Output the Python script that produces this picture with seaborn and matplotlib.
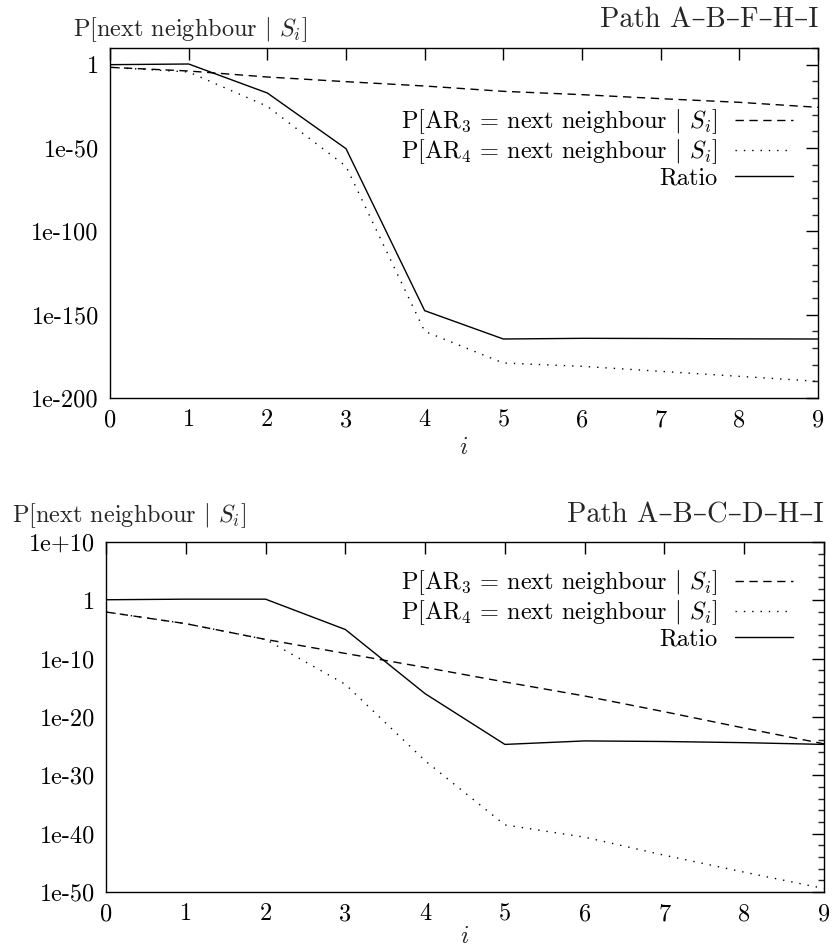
import matplotlib
matplotlib.use("Agg")
import matplotlib.pyplot as plt
import numpy as np
import pandas as pd
import seaborn as sns
from matplotlib.ticker import FixedLocator, NullFormatter

# ---------------- data (log10 of the plotted probabilities) ----------------
steps = [0, 1, 2, 3, 4, 5, 6, 7, 8, 9]

# Path A-B-F-H-I
top_ar3_exp = [-1.6, -3.8, -7.4, -10.2, -12.8, -16.0, -18.0, -20.4, -22.6, -25.6]
top_ar4_exp = [-1.6, -4.4, -25.0, -61.0, -160.0, -179.0, -181.0, -184.0, -187.0, -190.0]
top_ratio_exp = [0.0, 0.4, -17.0, -50.4, -147.6, -164.6, -164.2, -164.3, -164.5, -164.6]

# Path A-B-C-D-H-I
bot_ar3_exp = [-2.0, -4.0, -6.7, -9.1, -11.5, -14.0, -16.4, -19.1, -21.9, -24.6]
bot_ar4_exp = [-2.0, -4.0, -6.7, -14.4, -27.5, -38.5, -40.6, -43.7, -46.6, -49.4]
bot_ratio_exp = [0.1, 0.2, 0.2, -5.0, -16.0, -24.7, -24.1, -24.2, -24.4, -24.7]

series_labels = [
    r"P[AR$_3$ = next neighbour $|$ $S_i$]",
    r"P[AR$_4$ = next neighbour $|$ $S_i$]",
    "Ratio",
]
titles = ["Path A–B–F–H–I", "Path A–B–C–D–H–I"]
ylabel_text = r"P[next neighbour $|$ $S_i$]"
xlabel_text = r"$i$"

top_major_exp = [-200, -150, -100, -50, 0]
top_major_labels = ["1e-200", "1e-150", "1e-100", "1e-50", "1"]
bot_major_exp = [-50, -40, -30, -20, -10, 0, 10]
bot_major_labels = ["1e-50", "1e-40", "1e-30", "1e-20", "1e-10", "1", "1e+10"]
x_tick_labels = ["0", "1", "2", "3", "4", "5", "6", "7", "8", "9"]

# ---------------- style ----------------
sns.set_style("white")
plt.rcParams["font.family"] = ["cmr10", "DejaVu Serif"]
plt.rcParams["mathtext.fontset"] = "cm"
plt.rcParams["axes.unicode_minus"] = False
plt.rcParams["axes.edgecolor"] = "black"
plt.rcParams["axes.linewidth"] = 1.0
FS = 17.5
TITLE_FS = 20.5

fig = plt.figure(figsize=(8.32, 9.49), dpi=100)
ax_top = fig.add_axes([110 / 832, 1 - 398 / 949, 708 / 832, 350 / 949])
ax_bot = fig.add_axes([106 / 832, 1 - 892 / 949, 718 / 832, 350 / 949])

styles = [(0, (6, 4)), (0, (1, 5)), "-"]


def make_df(a3, a4, r):
    return [
        pd.DataFrame({"i": steps, "p": np.power(10.0, np.array(vals, dtype=float))})
        for vals in (a3, a4, r)
    ]


def draw(ax, dfs, ylim_exp, major_exp, major_labels, minor_step, title,
         ylabel_xy, title_y, leg_anchor, xlabel_y):
    for df, ls, lab in zip(dfs, styles, series_labels):
        sns.lineplot(data=df, x="i", y="p", ax=ax, color="black", lw=1.0,
                     linestyle=ls, label=lab, legend=False)
    ax.set_yscale("log")
    ax.set_xlim(0, 9)
    ax.set_ylim(10.0 ** ylim_exp[0], 10.0 ** ylim_exp[1])
    ax.set_xticks(steps)
    ax.set_xticklabels(x_tick_labels)
    ax.yaxis.set_major_locator(FixedLocator([10.0 ** e for e in major_exp]))
    ax.set_yticklabels(major_labels)
    minors = [10.0 ** e for e in range(ylim_exp[0], ylim_exp[1] + 1, minor_step)
              if e not in major_exp]
    ax.yaxis.set_minor_locator(FixedLocator(minors))
    ax.yaxis.set_minor_formatter(NullFormatter())
    ax.tick_params(which="major", direction="in", length=8.5, width=1.0,
                   top=True, right=True, labelsize=FS, pad=8, colors="black")
    ax.tick_params(which="minor", direction="in", length=4.3, width=1.0,
                   top=False, right=True, bottom=False)
    ax.tick_params(axis="x", which="minor", bottom=False, top=False)
    for sp in ax.spines.values():
        sp.set_visible(True)
        sp.set_linewidth(1.0)
        sp.set_color("black")
    ax.set_xlabel(xlabel_text, fontsize=FS)
    ax.xaxis.set_label_coords(0.5, xlabel_y)
    ax.set_ylabel("")
    ax.text(ylabel_xy[0], ylabel_xy[1], ylabel_text, transform=ax.transAxes,
            fontsize=FS, ha="left", va="baseline")
    ax.text(1.0, title_y, title, transform=ax.transAxes, fontsize=TITLE_FS,
            ha="right", va="baseline")
    leg = ax.legend(loc="upper right", bbox_to_anchor=leg_anchor,
                    markerfirst=False, frameon=False, fontsize=FS,
                    handlelength=2.4, handletextpad=0.7, labelspacing=0.05,
                    borderaxespad=0.0, borderpad=0.0)
    for t in leg.get_texts():
        t.set_color("black")


draw(ax_top, make_df(top_ar3_exp, top_ar4_exp, top_ratio_exp),
     (-200, 10), top_major_exp, top_major_labels, 10, titles[0],
     (-0.052, 1.034), 1.06, (0.965, 0.83), -0.112)
draw(ax_bot, make_df(bot_ar3_exp, bot_ar4_exp, bot_ratio_exp),
     (-50, 10), bot_major_exp, bot_major_labels, 2, titles[1],
     (-0.131, 1.057), 1.057, (0.957, 0.925), -0.098)

fig.savefig("out.png", dpi=100, facecolor="white")
